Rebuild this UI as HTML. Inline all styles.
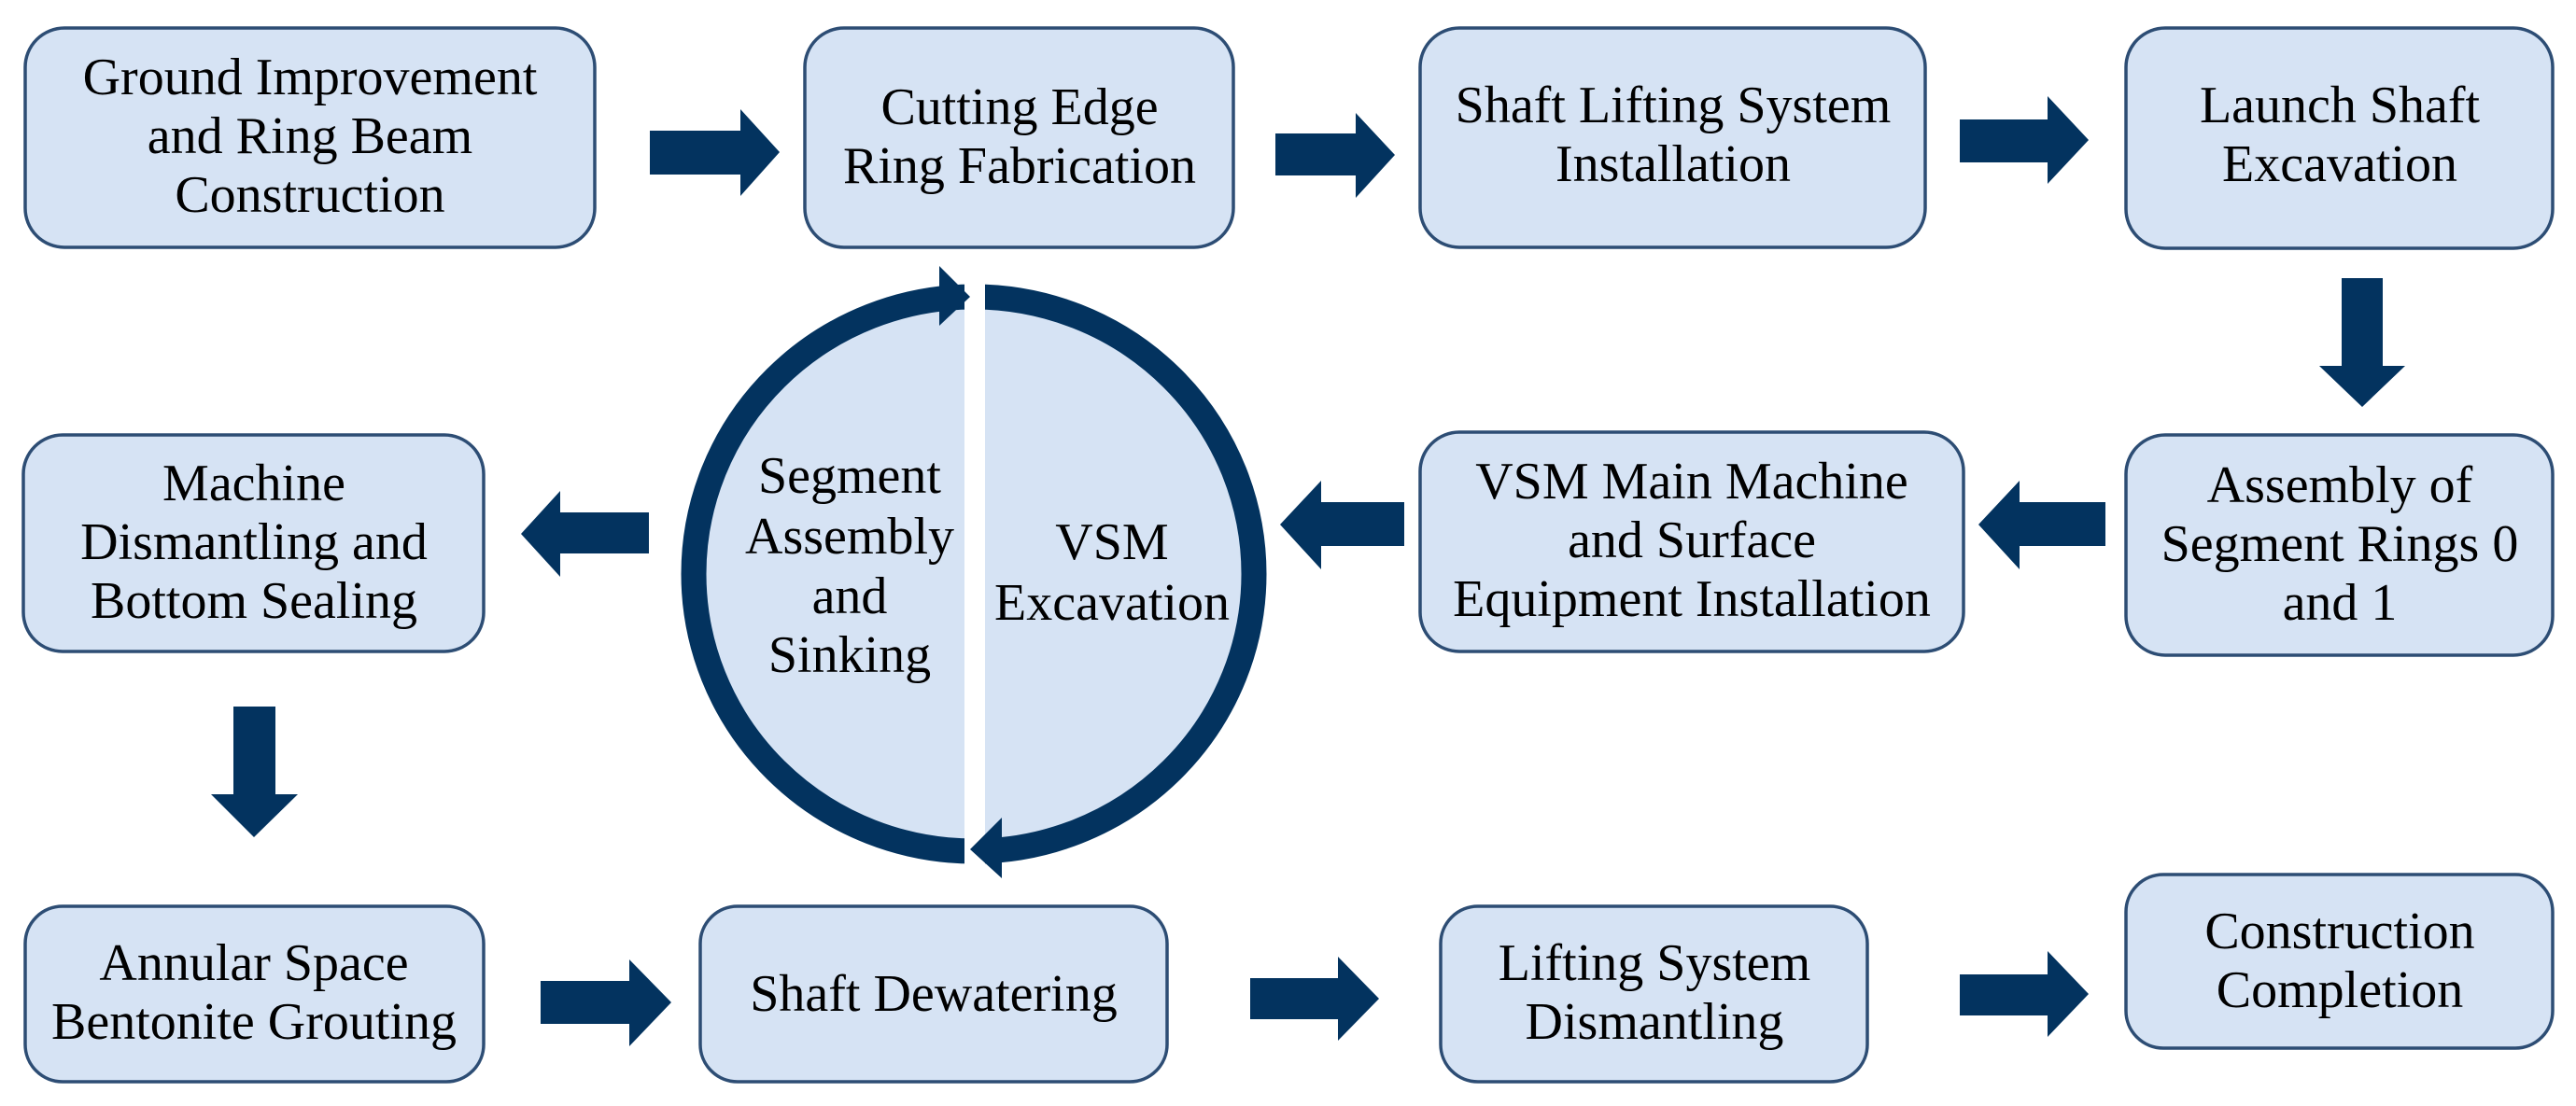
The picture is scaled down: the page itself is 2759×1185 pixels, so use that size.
<!DOCTYPE html>
<html><head><meta charset="utf-8"><style>
html,body{margin:0;padding:0;background:#fff;}
svg{display:block;}
text{font-family:"Liberation Serif",serif;font-size:56px;fill:#000;text-anchor:middle;}
.b{fill:#d6e3f4;stroke:#2d4d74;stroke-width:3.5;}
.a{fill:#03335f;}
</style></head><body>
<svg width="2759" height="1185" viewBox="0 0 2759 1185" xmlns="http://www.w3.org/2000/svg">
<!-- boxes -->
<rect class="b" x="27" y="30" width="610" height="235" rx="42"/>
<rect class="b" x="862" y="30" width="459" height="235" rx="42"/>
<rect class="b" x="1521" y="30" width="541" height="235" rx="42"/>
<rect class="b" x="2277" y="30" width="457" height="236" rx="42"/>
<rect class="b" x="25" y="466" width="493" height="232" rx="42"/>
<rect class="b" x="1521" y="463" width="582" height="235" rx="42"/>
<rect class="b" x="2277" y="466" width="457" height="236" rx="42"/>
<rect class="b" x="27" y="971" width="491" height="188" rx="40"/>
<rect class="b" x="750" y="971" width="500" height="188" rx="40"/>
<rect class="b" x="1543" y="971" width="457" height="188" rx="40"/>
<rect class="b" x="2277" y="937" width="457" height="186" rx="40"/>

<!-- arrows right -->
<polygon class="a" points="696,140 793,140 793,117 835,163 793,210 793,187 696,187"/>
<polygon class="a" points="1366,143 1452,143 1452,121 1494,166 1452,212 1452,188 1366,188"/>
<polygon class="a" points="2099,128 2193,128 2193,103 2237,150 2193,197 2193,174 2099,174"/>
<polygon class="a" points="579,1051 674,1051 674,1028 719,1074 674,1121 674,1097 579,1097"/>
<polygon class="a" points="1339,1048 1433,1048 1433,1025 1477,1070 1433,1115 1433,1092 1339,1092"/>
<polygon class="a" points="2099,1044 2193,1044 2193,1019 2237,1065 2193,1111 2193,1088 2099,1088"/>
<!-- arrows down -->
<polygon class="a" points="2508,298 2552,298 2552,392 2576,392 2530,436 2484,392 2508,392"/>
<polygon class="a" points="250,757 295,757 295,851 319,851 272,897 226,851 250,851"/>
<!-- arrows left -->
<polygon class="a" points="2255,538 2163,538 2163,515 2119,562 2163,610 2163,585 2255,585"/>
<polygon class="a" points="1504,538 1415,538 1415,515 1371,562 1415,610 1415,585 1504,585"/>
<polygon class="a" points="695,549 600,549 600,526 558,572 600,618 600,593 695,593"/>

<!-- circle -->
<ellipse cx="1043" cy="615" rx="300" ry="297" fill="#d6e3f4" stroke="#03335f" stroke-width="27"/>
<rect x="1033" y="295" width="22" height="640" fill="#fff"/>
<polygon class="a" points="1006,285 1039,318 1006,349"/>
<polygon class="a" points="1073,876 1039,910 1073,941"/>

<!-- text -->
<text x="332"><tspan x="332" y="101">Ground Improvement</tspan><tspan x="332" y="164">and Ring Beam</tspan><tspan x="332" y="227">Construction</tspan></text>
<text><tspan x="1092" y="133">Cutting Edge</tspan><tspan x="1092" y="196">Ring Fabrication</tspan></text>
<text><tspan x="1792" y="131">Shaft Lifting System</tspan><tspan x="1792" y="194">Installation</tspan></text>
<text><tspan x="2506" y="131">Launch Shaft</tspan><tspan x="2506" y="194">Excavation</tspan></text>
<text><tspan x="272" y="536">Machine</tspan><tspan x="272" y="599">Dismantling and</tspan><tspan x="272" y="662">Bottom Sealing</tspan></text>
<text><tspan x="1812" y="534">VSM Main Machine</tspan><tspan x="1812" y="597">and Surface</tspan><tspan x="1812" y="660">Equipment Installation</tspan></text>
<text><tspan x="2506" y="538">Assembly of</tspan><tspan x="2506" y="601">Segment Rings 0</tspan><tspan x="2506" y="664">and 1</tspan></text>
<text><tspan x="272" y="1050">Annular Space</tspan><tspan x="272" y="1113">Bentonite Grouting</tspan></text>
<text><tspan x="1000" y="1083">Shaft Dewatering</tspan></text>
<text><tspan x="1772" y="1050">Lifting System</tspan><tspan x="1772" y="1113">Dismantling</tspan></text>
<text><tspan x="2506" y="1016">Construction</tspan><tspan x="2506" y="1079">Completion</tspan></text>
<text><tspan x="910" y="528">Segment</tspan><tspan x="910" y="593">Assembly</tspan><tspan x="910" y="657">and</tspan><tspan x="910" y="720">Sinking</tspan></text>
<text><tspan x="1191" y="599">VSM</tspan><tspan x="1191" y="664">Excavation</tspan></text>
</svg>
</body></html>
